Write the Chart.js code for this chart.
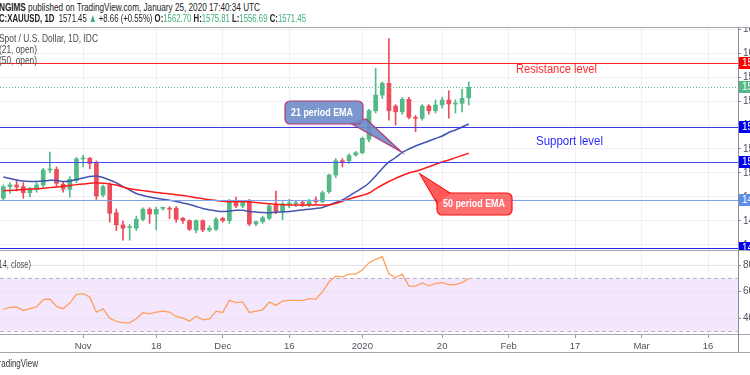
<!DOCTYPE html>
<html><head><meta charset="utf-8">
<script src="https://cdn.jsdelivr.net/npm/chart.js@4.4.1/dist/chart.umd.min.js"></script>
<style>
html,body{margin:0;padding:0;background:#fff;width:750px;height:375px;overflow:hidden;position:relative;font-family:"Liberation Sans",Arial,sans-serif;}
.t{position:absolute;white-space:nowrap;transform-origin:0 50%;z-index:5;}
.ln{position:absolute;background:#a3a6ae;z-index:4;}
canvas{position:absolute;left:0;}
#main{top:27px;}
#rsi{top:251px;}
.g{color:#3fae7a;}
</style></head><body>
<canvas id="main" width="750" height="223"></canvas>
<canvas id="rsi" width="750" height="101"></canvas>

<div class="ln" style="left:0;top:27px;width:750px;height:1px"></div>
<div class="ln" style="left:0;top:250px;width:750px;height:1px"></div>
<div class="ln" style="left:0;top:334px;width:750px;height:1px"></div>
<div class="ln" style="left:0;top:352px;width:750px;height:1px"></div>
<div class="ln" style="left:738px;top:27px;width:1px;height:325px;background:#8a8d95"></div>

<div class="t" id="h1" style="left:-1px;top:1px;font-size:11.5px;line-height:13px;color:#222"><b>NGIMS</b> published on TradingView.com, January 25, 2020 17:40:34 UTC</div>
<div class="t" id="h2" style="left:-1px;top:12px;font-size:11.5px;line-height:13px;color:#222"></div>
<div class="t" id="l1" style="left:-1px;top:32px;font-size:11px;line-height:12px;color:#4a4a4a">Spot / U.S. Dollar, 1D, IDC</div>
<div class="t" id="l2" style="left:-1px;top:43px;font-size:11px;line-height:12px;color:#4a4a4a">(21, open)</div>
<div class="t" id="l3" style="left:-1px;top:54px;font-size:11px;line-height:12px;color:#4a4a4a">(50, open)</div>
<div class="t" id="r1" style="left:-4px;top:258px;font-size:11px;line-height:12px;color:#4a4a4a">(14, close)</div>
<div class="t" id="tv" style="left:-6px;top:357px;font-size:11px;line-height:12px;color:#333">TradingView</div>
<div class="t" id="res" style="left:516px;top:62px;font-size:12px;line-height:14px;color:#ff2a2a">Resistance level</div>
<div class="t" id="sup" style="left:536px;top:134px;font-size:12px;line-height:14px;color:#2a2aff">Support level</div>
<div class="t" id="c21" style="left:291px;top:107px;font-size:10px;line-height:12px;color:#fff;font-weight:bold">21 period EMA</div>
<div class="t" id="c50" style="left:443px;top:198px;font-size:10px;line-height:12px;color:#fff;font-weight:bold">50 period EMA</div>

<script>
// ---- data ----
const dates = ['2019-10-16','2019-10-17','2019-10-18','2019-10-21','2019-10-22','2019-10-23','2019-10-24','2019-10-25','2019-10-28','2019-10-29','2019-10-30','2019-10-31',
'2019-11-01','2019-11-04','2019-11-05','2019-11-06','2019-11-07','2019-11-08','2019-11-11','2019-11-12','2019-11-13','2019-11-14','2019-11-15','2019-11-18','2019-11-19','2019-11-20','2019-11-21','2019-11-22','2019-11-25','2019-11-26','2019-11-27','2019-11-28','2019-11-29',
'2019-12-02','2019-12-03','2019-12-04','2019-12-05','2019-12-06','2019-12-09','2019-12-10','2019-12-11','2019-12-12','2019-12-13','2019-12-16','2019-12-17','2019-12-18','2019-12-19','2019-12-20','2019-12-23','2019-12-24','2019-12-26','2019-12-27','2019-12-30','2019-12-31',
'2020-01-02','2020-01-03','2020-01-06','2020-01-07','2020-01-08','2020-01-09','2020-01-10','2020-01-13','2020-01-14','2020-01-15','2020-01-16','2020-01-17','2020-01-20','2020-01-21','2020-01-22','2020-01-23','2020-01-24'];
const firstIndex = -12; // bar index of the first date (Nov 1 = 0)
const open  = [1479.0,1488.6,1490.0,1488.6,1483.6,1486.4,1490.0,1502.5,1503.0,1490.6,1486.4,1493.6,
1511.7,1512.3,1508.0,1481.7,1490.0,1466.9,1456.7,1454.5,1454.0,1461.4,1469.8,1465.8,1470.5,1470.6,1470.6,1462.2,1460.3,1452.5,1460.3,1452.5,1453.1,
1462.2,1460.3,1475.3,1472.5,1476.1,1457.5,1459.4,1462.2,1473.3,1467.8,1474.2,1474.5,1475.0,1473.3,1477.5,1476.1,1484.4,1498.3,1510.2,1510.2,1515.0,
1516.9,1528.1,1551.9,1565.0,1574.8,1555.8,1551.0,1561.4,1546.4,1545.6,1555.8,1551.9,1556.7,1560.8,1557.5,1558.1,1562.70];
const high  = [1490.0,1492.0,1494.0,1492.0,1488.0,1492.0,1504.0,1517.5,1505.0,1493.0,1497.0,1513.0,
1515.0,1513.0,1510.0,1490.0,1491.7,1470.0,1460.0,1457.0,1464.0,1471.0,1471.0,1471.5,1471.5,1472.0,1472.0,1463.0,1461.0,1461.0,1461.0,1456.0,1463.0,
1463.0,1478.0,1480.0,1477.0,1478.0,1460.0,1464.0,1474.0,1485.0,1476.0,1478.0,1477.0,1477.0,1478.0,1480.0,1485.0,1499.0,1512.0,1512.0,1516.0,1518.0,
1530.0,1553.0,1587.2,1576.0,1612.0,1557.0,1563.0,1563.0,1548.0,1557.0,1557.0,1561.0,1563.0,1568.6,1561.0,1570.0,1575.81];
const low   = [1477.0,1483.0,1485.0,1479.0,1480.0,1484.0,1488.0,1500.0,1489.0,1484.0,1480.0,1492.0,
1505.0,1503.5,1478.0,1480.0,1459.0,1452.0,1444.0,1444.0,1452.0,1460.0,1458.0,1452.5,1469.0,1462.0,1459.0,1458.0,1452.0,1450.0,1451.0,1451.0,1452.0,
1459.0,1458.0,1471.0,1471.0,1456.0,1456.0,1458.0,1461.0,1466.0,1461.0,1471.0,1472.0,1472.0,1472.0,1474.0,1475.0,1483.0,1496.0,1505.0,1508.0,1514.0,
1516.0,1526.0,1550.0,1562.0,1544.0,1540.0,1549.0,1545.0,1534.4,1544.0,1549.0,1550.0,1554.0,1545.6,1550.0,1551.0,1556.69];
const close = [1488.6,1490.0,1488.3,1483.6,1486.7,1490.0,1502.5,1503.0,1491.4,1486.7,1494.8,1511.7,
1512.5,1508.0,1480.8,1488.6,1466.4,1456.7,1454.0,1455.0,1461.4,1469.8,1465.8,1469.8,1470.6,1469.8,1461.4,1460.3,1453.1,1460.3,1452.5,1454.0,1461.4,
1460.3,1476.1,1472.5,1475.3,1457.5,1459.4,1462.8,1472.5,1467.8,1474.2,1474.5,1475.0,1474.6,1476.1,1476.1,1483.6,1498.3,1510.2,1509.4,1514.5,1516.9,
1528.9,1551.9,1565.0,1574.8,1551.9,1551.0,1561.4,1546.4,1545.6,1555.8,1551.9,1556.7,1560.8,1557.5,1557.8,1562.2,1571.45];
const ema21 = [1496.7,1495.4,1494.2,1493.3,1492.9,1492.9,1493.3,1493.9,1493.8,1492.9,1493.3,1494.6,
1495.8,1497.1,1497.5,1496.3,1494.2,1491.7,1488.6,1485.8,1482.9,1481.3,1480.0,1478.9,1478.1,1477.3,1476.3,1475.0,1473.8,1472.1,1470.4,1469.3,1468.3,
1467.8,1468.3,1468.9,1468.9,1467.9,1467.5,1467.1,1466.9,1467.3,1467.5,1467.9,1468.5,1469.2,1469.8,1470.4,1471.3,1473.3,1475.4,1477.5,1480.8,1484.2,
1487.5,1491.7,1497.5,1503.8,1509.2,1512.9,1517.1,1520.0,1522.5,1524.6,1526.7,1528.8,1530.8,1533.8,1535.8,1538.3,1540.8];
const ema50 = [1485.2,1485.5,1485.8,1486.2,1486.5,1486.8,1487.3,1487.8,1488.3,1488.9,1489.6,1490.3,
1490.8,1491.4,1491.8,1491.4,1490.8,1490.0,1488.3,1486.8,1486.0,1485.3,1484.5,1483.8,1483.2,1482.5,1481.9,1481.3,1480.4,1479.4,1478.6,1477.8,1477.1,
1476.4,1476.1,1476.1,1476.1,1476.0,1475.4,1474.8,1474.3,1473.9,1473.6,1473.3,1473.3,1473.3,1473.3,1473.3,1473.3,1473.3,1474.6,1476.4,1478.3,1480.0,
1481.4,1483.3,1486.7,1490.0,1492.9,1495.4,1497.9,1500.0,1501.4,1503.1,1505.2,1507.3,1509.2,1510.8,1512.8,1514.6,1516.4];
const rsi14 = [46.8,48.1,48.4,45.8,47.1,48.4,53.9,54.4,48.9,47.1,51.4,58.0,
58.5,56.0,44.6,47.1,40.0,37.5,36.5,36.5,39.5,44.1,43.3,44.6,45.3,44.6,41.3,40.0,37.7,41.5,38.7,39.5,45.3,
44.3,53.4,51.7,52.2,44.3,45.3,46.3,52.2,49.6,52.9,53.4,53.4,53.2,54.7,54.4,59.8,67.4,71.6,71.1,73.2,73.2,
76.2,81.8,84.3,86.3,73.2,70.6,73.2,64.1,64.1,66.6,64.3,66.1,66.8,65.3,65.3,66.8,69.9];
const tickIdx  = [0,11,21,31,42,54,64,74,84,94];
const tickText = ['Nov','18','Dec','16','2020','20','Feb','17','Mar','16'];
const priceTicks = [1440,1460,1480,1500,1520,1540,1560,1580,1600,1620];
const rsiTicks = [40,60,80];
const levels      = [1591.4, 1538.0, 1509.0, 1477.5, 1437.6];
const levelColors = ['#ff2a2a','#3a3ae0','#4a4af2','#7ea2ea','#2424e0'];
const lastPrice = close[close.length-1];
const dayChange = 8.66, dayChangePct = 0.55;
const rsiBand = [30,70];

// ---- style ----
const UP='#53b987', DN='#eb4d5c', GRID='#eef0f5', AXT='#50535e';
const idx = dates.map((d,k)=>k+firstIndex);
const col = idx.map((_,k)=> close[k]>=open[k]?UP:DN);
const xMin=-12.5, xMax=98.5;

document.getElementById('h2').innerHTML =
 '<b>C:XAUUSD, 1D</b>&nbsp; '+lastPrice.toFixed(2)+' <span class="g">&#9650;</span> +'+dayChange.toFixed(2)+
 ' (+'+dayChangePct.toFixed(2)+'%) '+
 '<b>O:</b><span class="g">'+open[open.length-1].toFixed(2)+'</span> <b>H:</b><span class="g">'+high[high.length-1].toFixed(2)+
 '</span> <b>L:</b><span class="g">'+low[low.length-1].toFixed(2)+'</span> <b>C:</b><span class="g">'+lastPrice.toFixed(2)+'</span>';

function noPad(s){s.paddingTop=0;s.paddingBottom=0;s.paddingLeft=0;s.paddingRight=0;}
function xScaleCfg(showLabels){
  return {type:'linear',min:xMin,max:xMax,offset:false,
    afterBuildTicks:s=>{s.ticks=tickIdx.map(v=>({value:v}));},
    ticks:{display:showLabels,autoSkip:false,maxRotation:0,padding:3,color:AXT,font:{size:9.5,family:'Liberation Sans'},
      callback:v=>{const k=tickIdx.indexOf(v);return k<0?null:tickText[k];}},
    grid:{color:GRID,offset:false,drawTicks:showLabels,tickLength:3,tickColor:'#9a9da5'},
    border:{display:false},
    afterFit:s=>{s.height=showLabels?17:0;noPad(s);}
  };
}
function yScaleCfg(mn,mx,ticks,gridColor){
  return {position:'right',min:mn,max:mx,
    afterBuildTicks:s=>{s.ticks=ticks.map(v=>({value:v}));},
    ticks:{padding:2,color:AXT,font:{size:10,family:'Liberation Sans'},callback:v=>v.toFixed(2)},
    grid:{color:gridColor,tickLength:3,tickColor:'#8a8d95'},border:{display:false},
    afterFit:s=>{s.width=12;noPad(s);}};
}

const mainDeco={id:'mainDeco',
  afterDatasetsDraw(c){
    const {ctx,chartArea:a,scales:{x,y}}=c;
    ctx.save();
    levels.forEach((v,k)=>{const py=Math.round(y.getPixelForValue(v))+0.5;
      ctx.strokeStyle=levelColors[k];ctx.lineWidth=1;ctx.beginPath();ctx.moveTo(a.left,py);ctx.lineTo(a.right,py);ctx.stroke();});
    const pp=Math.round(y.getPixelForValue(lastPrice))+0.5;
    ctx.strokeStyle=UP;ctx.setLineDash([1,2]);ctx.beginPath();ctx.moveTo(a.left,pp);ctx.lineTo(a.right,pp);ctx.stroke();ctx.setLineDash([]);
    const T=27; // canvas top offset in page
    ctx.fillStyle='rgba(110,140,200,0.9)';ctx.strokeStyle='#b23a78';ctx.lineWidth=1.2;
    ctx.beginPath();ctx.moveTo(350,123-T);ctx.lineTo(366,119-T);ctx.lineTo(401.5,152-T);ctx.closePath();ctx.fill();ctx.stroke();
    ctx.beginPath();ctx.roundRect(285,101-T,78,23,5);ctx.fill();ctx.stroke();
    ctx.beginPath();ctx.moveTo(351,122.5-T);ctx.lineTo(365,119.5-T);ctx.lineTo(366,123-T);ctx.closePath();ctx.fill();
    ctx.fillStyle='rgba(255,90,90,0.88)';ctx.strokeStyle='#ff1010';
    ctx.beginPath();ctx.moveTo(420,174-T);ctx.lineTo(450,193-T);ctx.lineTo(437,203-T);ctx.closePath();ctx.fill();ctx.stroke();
    ctx.beginPath();ctx.roundRect(437,193-T,75,22,5);ctx.fill();ctx.stroke();
    ctx.beginPath();ctx.moveTo(421,175-T);ctx.lineTo(449,194-T);ctx.lineTo(438,202-T);ctx.closePath();ctx.fill();
    ctx.restore();
  },
  afterDraw(c){
    const {ctx,chartArea:a,scales:{y}}=c;
    ctx.save();
    const tags=[[levels[0],'#ff0000'],[lastPrice,UP],[levels[1],'#0000ee'],[levels[2],'#0000ee'],[levels[3],'#5b8def'],[levels[4],'#0000ee']];
    tags.forEach(([v,cl])=>{const py=Math.round(y.getPixelForValue(v));
      ctx.fillStyle=cl;ctx.fillRect(a.right+1,py-6,40,12);
      ctx.fillStyle='#fff';ctx.font='10px "Liberation Sans"';ctx.textBaseline='middle';ctx.fillText(v.toFixed(2),a.right+4,py+0.5);});
    ctx.restore();
  }
};

new Chart(document.getElementById('main'),{
  data:{datasets:[
    {type:'bar',data:idx.map((i,k)=>({x:i,y:[low[k],high[k]]})),backgroundColor:col,barThickness:1,grouped:false,order:3},
    {type:'bar',data:idx.map((i,k)=>({x:i,y:[open[k],close[k]]})),backgroundColor:col,barThickness:4,minBarLength:1,grouped:false,order:2},
    {type:'line',data:idx.map((i,k)=>({x:i,y:ema21[k]})),borderColor:'#4254b0',borderWidth:1.5,pointRadius:0,tension:0.3,order:1},
    {type:'line',data:idx.map((i,k)=>({x:i,y:ema50[k]})),borderColor:'#ff1a1a',borderWidth:1.5,pointRadius:0,tension:0.3,order:0}
  ]},
  options:{responsive:false,animation:false,layout:{padding:0},
    plugins:{legend:{display:false},tooltip:{enabled:false}},
    scales:{x:xScaleCfg(false),y:yScaleCfg(1435.8,1621.7,priceTicks,GRID)}},
  plugins:[mainDeco]
});

const rsiDeco={id:'rsiDeco',
  beforeDraw(c){const {ctx,chartArea:a,scales:{y}}=c;
    const t=y.getPixelForValue(rsiBand[1]),b=y.getPixelForValue(rsiBand[0]);
    ctx.save();ctx.fillStyle='#f3e6fd';ctx.fillRect(a.left,t,a.right-a.left,b-t);ctx.restore();},
  afterDatasetsDraw(c){const {ctx,chartArea:a,scales:{y}}=c;
    ctx.save();ctx.strokeStyle='#b8b4c0';ctx.lineWidth=1;ctx.setLineDash([4,3]);
    rsiBand.forEach(v=>{const py=Math.round(y.getPixelForValue(v))+0.5;ctx.beginPath();ctx.moveTo(a.left,py);ctx.lineTo(a.right,py);ctx.stroke();});
    ctx.restore();}
};

new Chart(document.getElementById('rsi'),{
  type:'line',
  data:{datasets:[{data:idx.map((i,k)=>({x:i,y:rsi14[k]})),borderColor:'#ff9f5e',borderWidth:1.3,pointRadius:0,tension:0}]},
  options:{responsive:false,animation:false,layout:{padding:0},
    plugins:{legend:{display:false},tooltip:{enabled:false}},
    scales:{x:xScaleCfg(true),y:yScaleCfg(27.3,90.6,rsiTicks,'#e6e3ee')}},
  plugins:[rsiDeco]
});

function fit(id,w){const el=document.getElementById(id);const r=el.getBoundingClientRect().width;if(r>0)el.style.transform='scaleX('+(w/r)+')';}
fit('h1',261);fit('h2',307);fit('l1',99);fit('l2',38);fit('l3',38);fit('r1',35);fit('tv',44);
fit('res',81);fit('sup',67);fit('c21',62);fit('c50',62);
</script>
</body></html>
